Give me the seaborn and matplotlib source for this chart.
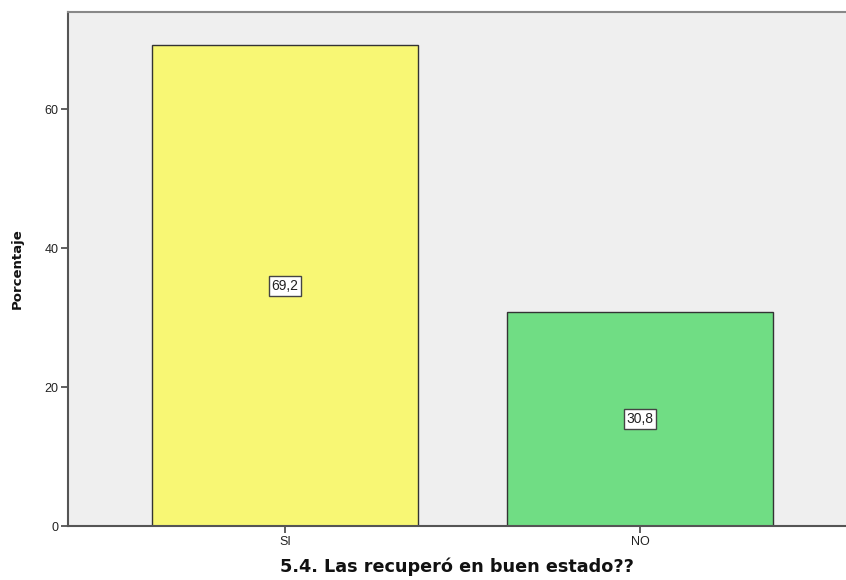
import matplotlib
matplotlib.use('Agg')
import matplotlib.pyplot as plt
import seaborn as sns
import pandas as pd

# datos
categorias = ['SI', 'NO']
porcentajes = [69.2, 30.8]
etiquetas = ['69,2', '30,8']
colores = ['#F8F774', '#70DD84']

df = pd.DataFrame({'respuesta': categorias, 'porcentaje': porcentajes})

sns.set_style('white')
plt.rcParams['font.family'] = ['Liberation Sans', 'DejaVu Sans']

fig = plt.figure(figsize=(8.46, 5.80), dpi=100)
ax = fig.add_axes([0.0804, 0.0931, 0.9196, 0.886])

sns.barplot(data=df, x='respuesta', y='porcentaje', hue='respuesta',
            palette=colores, saturation=1, width=0.75, edgecolor='#333333',
            linewidth=1.0, legend=False, ax=ax, zorder=2)

ax.set_facecolor('#EFEFEF')
ax.set_xlim(-0.611, 1.58)
ax.set_ylim(0, 74)
ax.set_yticks([0, 20, 40, 60])

# etiquetas de valor en el centro de las barras
for i, (v, t) in enumerate(zip(porcentajes, etiquetas)):
    ax.text(i, v / 2, t, ha='center', va='center', fontsize=10, color='#222222',
            bbox=dict(boxstyle='square,pad=0.2', facecolor='white',
                      edgecolor='#444444', linewidth=1.0), zorder=3)

for s in ['left', 'bottom']:
    ax.spines[s].set_color('#555555')
    ax.spines[s].set_linewidth(1.5)
ax.spines['top'].set_color('#888888')
ax.spines['top'].set_linewidth(1.5)
ax.spines['right'].set_visible(False)

ax.tick_params(axis='both', direction='out', length=5, width=1.2, color='#444444',
               labelsize=9, labelcolor='#222222', pad=2, bottom=True, left=True)

ax.set_xlabel('5.4. Las recuperó en buen estado??', fontsize=12.7, fontweight='bold',
              color='#111111', labelpad=7, family='DejaVu Sans')
ax.set_ylabel('Porcentaje', fontsize=9.5, fontweight='bold', color='#111111',
              labelpad=15, family='DejaVu Sans')

fig.savefig('out.png', dpi=100)
